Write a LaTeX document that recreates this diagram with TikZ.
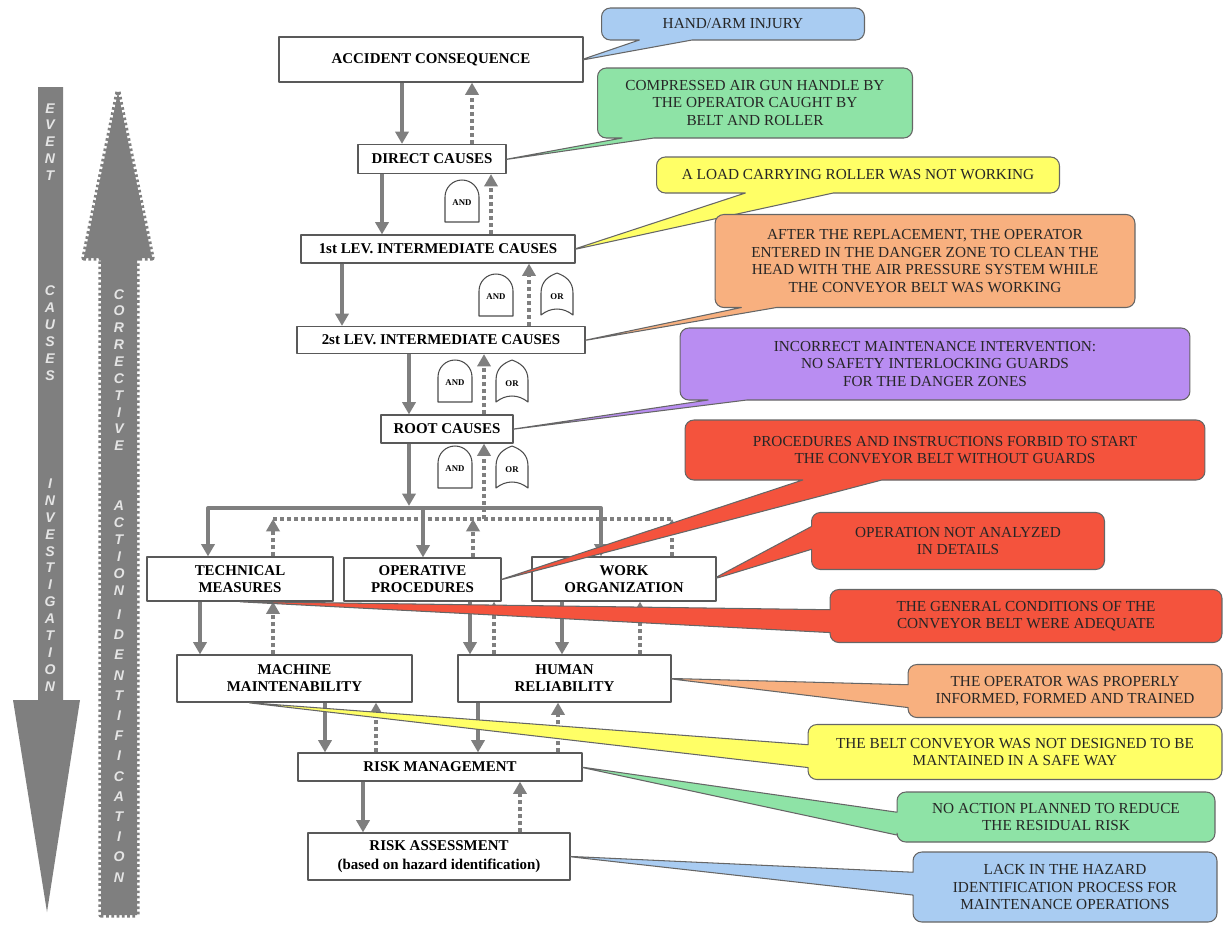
\documentclass[tikz,border=0pt]{standalone}
\usepackage{fontspec}
\setmainfont{Liberation Serif}
\setsansfont{Liberation Sans}
\usetikzlibrary{arrows.meta,shapes.callouts,calc}
\definecolor{arrgrey}{HTML}{7F7F7F}
\definecolor{cblue}{HTML}{A9CCF2}
\definecolor{cgreen}{HTML}{8EE3A6}
\definecolor{cyellow}{HTML}{FFFF66}
\definecolor{corange}{HTML}{F8B07F}
\definecolor{cpurple}{HTML}{B98DF2}
\definecolor{cred}{HTML}{F4533D}
\begin{document}
\begin{tikzpicture}[x=0.02cm, y=-0.02cm, line join=round]
	\tikzset{box/.style={draw=black!65, fill=white, line width=0.7pt, align=center, inner sep=1pt,
			font=\fontsize{8.5}{9.7}\selectfont\bfseries},
		fwd/.style={draw=arrgrey, line width=2.3pt, -{Triangle[width=7.5pt,length=7pt]}},
		bwd/.style={draw=arrgrey, line width=2.3pt, dash pattern=on 2.3pt off 1.7pt, -{Triangle[width=7.5pt,length=7pt]}},
		dotline/.style={draw=arrgrey, line width=2.3pt, dash pattern=on 2.3pt off 1.7pt},
		note/.style={rectangle callout, fill=#1, draw=black!60, line width=0.6pt, rounded corners=5pt,
			callout pointer width=13pt, callout pointer shorten=-3pt, align=center, text=black!85,
			font=\fontsize{8.7}{10}\selectfont},
		gatepen/.style={draw=black!70, fill=white, line width=0.6pt},
		gatetxt/.style={font=\fontsize{5}{6}\selectfont\bfseries, inner sep=0pt},
		bigtxt/.style={align=center, text=white!90!black, inner sep=0pt},
		andgate/.pic={\draw[gatepen] (-17,21) -- (-17,-4) arc[start angle=180, end angle=360, radius=17] -- (17,21) -- cycle;
			\node[gatetxt] at (0,2) {AND};},
		orgate/.pic={\draw[gatepen] (-16,20) .. controls (-6,12) and (6,12) .. (16,20) -- (16,-2)
			.. controls (16,-14) and (8,-19) .. (0,-22) .. controls (-8,-19) and (-16,-14) .. (-16,-2) -- cycle;
			\node[gatetxt] at (0,2) {OR};}}
	\useasboundingbox (0,0) rectangle (1223,924);
	% big arrows on the left
	\fill[arrgrey] (38,87) -- (63,87) -- (63,700) -- (80,700) -- (47,912) -- (13,700) -- (38,700) -- cycle;
	\filldraw[arrgrey, line width=3pt, dash pattern=on 1.5pt off 1.5pt]
	(118,92) -- (152,258) -- (137,258) -- (137,915) -- (101,915) -- (101,258) -- (84,258) -- cycle;
	\begin{scope}[font=\fontsize{8}{9.6}\selectfont\sffamily\bfseries\itshape]
		\node[bigtxt] (evtxt) at (50,142) {E\\V\\E\\N\\T};
		\node[bigtxt] (cstxt) at (50,333) {C\\A\\U\\S\\E\\S};
		\node[bigtxt] (invtxt) at (50,585) {I\\N\\V\\E\\S\\T\\I\\G\\A\\T\\I\\O\\N};
		\node[bigtxt] (cortxt) at (119,370) {C\\O\\R\\R\\E\\C\\T\\I\\V\\E};
		\node[bigtxt] (acttxt) at (119,548) {A\\C\\T\\I\\O\\N};
		\node[bigtxt, font=\fontsize{8}{11.5}\selectfont\sffamily\bfseries\itshape] (idtxt) at (119,746) {I\\D\\E\\N\\T\\I\\F\\I\\C\\A\\T\\I\\O\\N};
	\end{scope}
	% boxes
	\node[box, minimum width=6.08cm, minimum height=0.9cm] (acc) at (431,59.5) {ACCIDENT CONSEQUENCE};
	\node[box, minimum width=2.96cm, minimum height=0.58cm] (dc) at (432,159) {DIRECT CAUSES};
	\node[box, minimum width=5.48cm, minimum height=0.56cm] (lev1) at (438,249) {1st LEV. INTERMEDIATE CAUSES};
	\node[box, minimum width=5.76cm, minimum height=0.54cm] (lev2) at (441,340) {2st LEV. INTERMEDIATE CAUSES};
	\node[box, minimum width=2.64cm, minimum height=0.56cm] (root) at (447,429) {ROOT CAUSES};
	\node[box, minimum width=3.72cm, minimum height=0.88cm] (tech) at (240,579) {TECHNICAL\\MEASURES};
	\node[box, minimum width=3.14cm, minimum height=0.86cm] (oper) at (422.5,579.5) {OPERATIVE\\PROCEDURES};
	\node[box, minimum width=3.68cm, minimum height=0.88cm] (work) at (624,579) {WORK\\ORGANIZATION};
	\node[box, minimum width=4.7cm, minimum height=0.94cm] (mach) at (294.5,678.5) {MACHINE\\MAINTENABILITY};
	\node[box, minimum width=4.26cm, minimum height=0.94cm] (hum) at (564.5,678.5) {HUMAN\\RELIABILITY};
	\node[box, minimum width=5.68cm, minimum height=0.56cm] (rmg) at (440,767) {RISK MANAGEMENT};
	\node[box, minimum width=5.24cm, minimum height=0.94cm] (ras) at (439,856.5) {RISK ASSESSMENT\\[1pt](based on hazard identification)};
	% downward chain (investigation)
	\draw[fwd] (402,0 |- acc.south) -- (402,0 |- dc.north);
	\draw[fwd] (382,0 |- dc.south) -- (382,0 |- lev1.north);
	\draw[fwd] (342,0 |- lev1.south) -- (342,0 |- lev2.north);
	\draw[fwd] (409,0 |- lev2.south) -- (409,0 |- root.north);
	\coordinate (busM) at (409,508);
	\coordinate (busL) at (208,508);
	\coordinate (busO) at (423,508);
	\coordinate (busR) at (601,508);
	\draw[fwd] (root.south -| busM) -- ([yshift=1.2pt]busM);
	\draw[fwd] (busM) -| (busL |- tech.north);
	\draw[fwd] (busM) -| (busR |- work.north);
	\draw[fwd] (busO) -- (busO |- oper.north);
	\draw[fwd] (200,0 |- tech.south) -- (200,0 |- mach.north);
	\draw[fwd] (470,0 |- oper.south) -- (470,0 |- hum.north);
	\draw[fwd] (562,0 |- work.south) -- (562,0 |- hum.north);
	\draw[fwd] (325,0 |- mach.south) -- (325,0 |- rmg.north);
	\draw[fwd] (478,0 |- hum.south) -- (478,0 |- rmg.north);
	\draw[fwd] (363,0 |- rmg.south) -- (363,0 |- ras.north);
	% upward chain (corrective actions)
	\draw[bwd] (472,0 |- dc.north) -- (472,0 |- acc.south);
	\draw[bwd] (491,0 |- lev1.north) -- (491,0 |- dc.south);
	\draw[bwd] (529,0 |- lev2.north) -- (529,0 |- lev1.south);
	\draw[bwd] (484,0 |- root.north) -- (484,0 |- lev2.south);
	\coordinate (dbM) at (484,519);
	\coordinate (dbL) at (273,519);
	\coordinate (dbO) at (473,519);
	\coordinate (dbR) at (672,519);
	\draw[dotline] (dbL) -- (dbR);
	\draw[bwd] (dbM) -- (dbM |- root.south);
	\draw[bwd] (tech.north -| dbL) -- (dbL);
	\draw[bwd] (oper.north -| dbO) -- (dbO);
	\draw[bwd] (work.north -| dbR) -- (dbR);
	\draw[bwd] (273,0 |- mach.north) -- (273,0 |- tech.south);
	\draw[bwd] (494,0 |- hum.north) -- (494,0 |- oper.south);
	\draw[bwd] (640,0 |- hum.north) -- (640,0 |- work.south);
	\draw[bwd] (376,0 |- rmg.north) -- (376,0 |- mach.south);
	\draw[bwd] (558,0 |- rmg.north) -- (558,0 |- hum.south);
	\draw[bwd] (520,0 |- ras.north) -- (520,0 |- rmg.south);
	% gates
	\pic at (462,201) {andgate};
	\pic at (496,295) {andgate};
	\pic at (557,295) {orgate};
	\pic at (455,381) {andgate};
	\pic at (512,382) {orgate};
	\pic at (455,467) {andgate};
	\pic at (512,468) {orgate};
	% callouts
	\node[note=cblue, minimum width=5.26cm, minimum height=0.64cm, callout pointer width=30pt, callout absolute pointer={(acc.east)}] (n1) at (733,24) {HAND/ARM INJURY};
	\node[note=cgreen, minimum width=6.3cm, minimum height=1.4cm, callout pointer width=18pt, callout absolute pointer={(dc.east)}] (n2) at (755,103) {COMPRESSED AIR GUN HANDLE BY\\THE OPERATOR CAUGHT BY\\BELT AND ROLLER};
	\node[note=cyellow, minimum width=8.06cm, minimum height=0.72cm, callout pointer width=50pt, callout absolute pointer={(lev1.east)}] (n3) at (858,175) {A LOAD CARRYING ROLLER WAS NOT WORKING};
	\node[note=corange, minimum width=8.4cm, minimum height=1.86cm, callout pointer width=20pt, callout absolute pointer={(lev2.east)}] (n4) at (925,261) {AFTER THE REPLACEMENT, THE OPERATOR\\ENTERED IN THE DANGER ZONE TO CLEAN THE\\HEAD WITH THE AIR PRESSURE SYSTEM WHILE\\THE CONVEYOR BELT WAS WORKING};
	\node[note=cpurple, minimum width=10.2cm, minimum height=1.44cm, callout pointer width=22pt, callout absolute pointer={(root.east)}] (n5) at (935,364) {INCORRECT MAINTENANCE INTERVENTION:\\NO SAFETY INTERLOCKING GUARDS\\FOR THE DANGER ZONES};
	\node[note=cred, minimum width=10.4cm, minimum height=1.2cm, callout pointer width=45pt, callout absolute pointer={(oper.east)}] (n6) at (945,450) {PROCEDURES AND INSTRUCTIONS FORBID TO START\\THE CONVEYOR BELT WITHOUT GUARDS};
	\node[note=cred, minimum width=5.86cm, minimum height=1.14cm, callout absolute pointer={(work.east)}] (n7) at (958,541) {OPERATION NOT ANALYZED\\IN DETAILS};
	\node[note=cred, minimum width=7.84cm, minimum height=1.06cm, callout absolute pointer={(tech.south)}] (n8) at (1026,616) {THE GENERAL CONDITIONS OF THE\\CONVEYOR BELT WERE ADEQUATE};
	\node[note=corange, minimum width=6.28cm, minimum height=1.06cm, callout absolute pointer={(hum.east)}] (n9) at (1065,691) {THE OPERATOR WAS PROPERLY\\INFORMED, FORMED AND TRAINED};
	\node[note=cyellow, minimum width=8.28cm, minimum height=1.1cm, callout absolute pointer={($(mach.south)+(-45,0)$)}] (n10) at (1015,752) {THE BELT CONVEYOR WAS NOT DESIGNED TO BE\\MANTAINED IN A SAFE WAY};
	\node[note=cgreen, minimum width=6.36cm, minimum height=1cm, callout absolute pointer={(rmg.east)}] (n11) at (1056,817) {NO ACTION PLANNED TO REDUCE\\THE RESIDUAL RISK};
	\node[note=cblue, minimum width=6.08cm, minimum height=1.4cm, callout absolute pointer={(ras.east)}] (n12) at (1065,887) {LACK IN THE HAZARD\\IDENTIFICATION PROCESS FOR\\MAINTENANCE OPERATIONS};
\end{tikzpicture}
\end{document}
